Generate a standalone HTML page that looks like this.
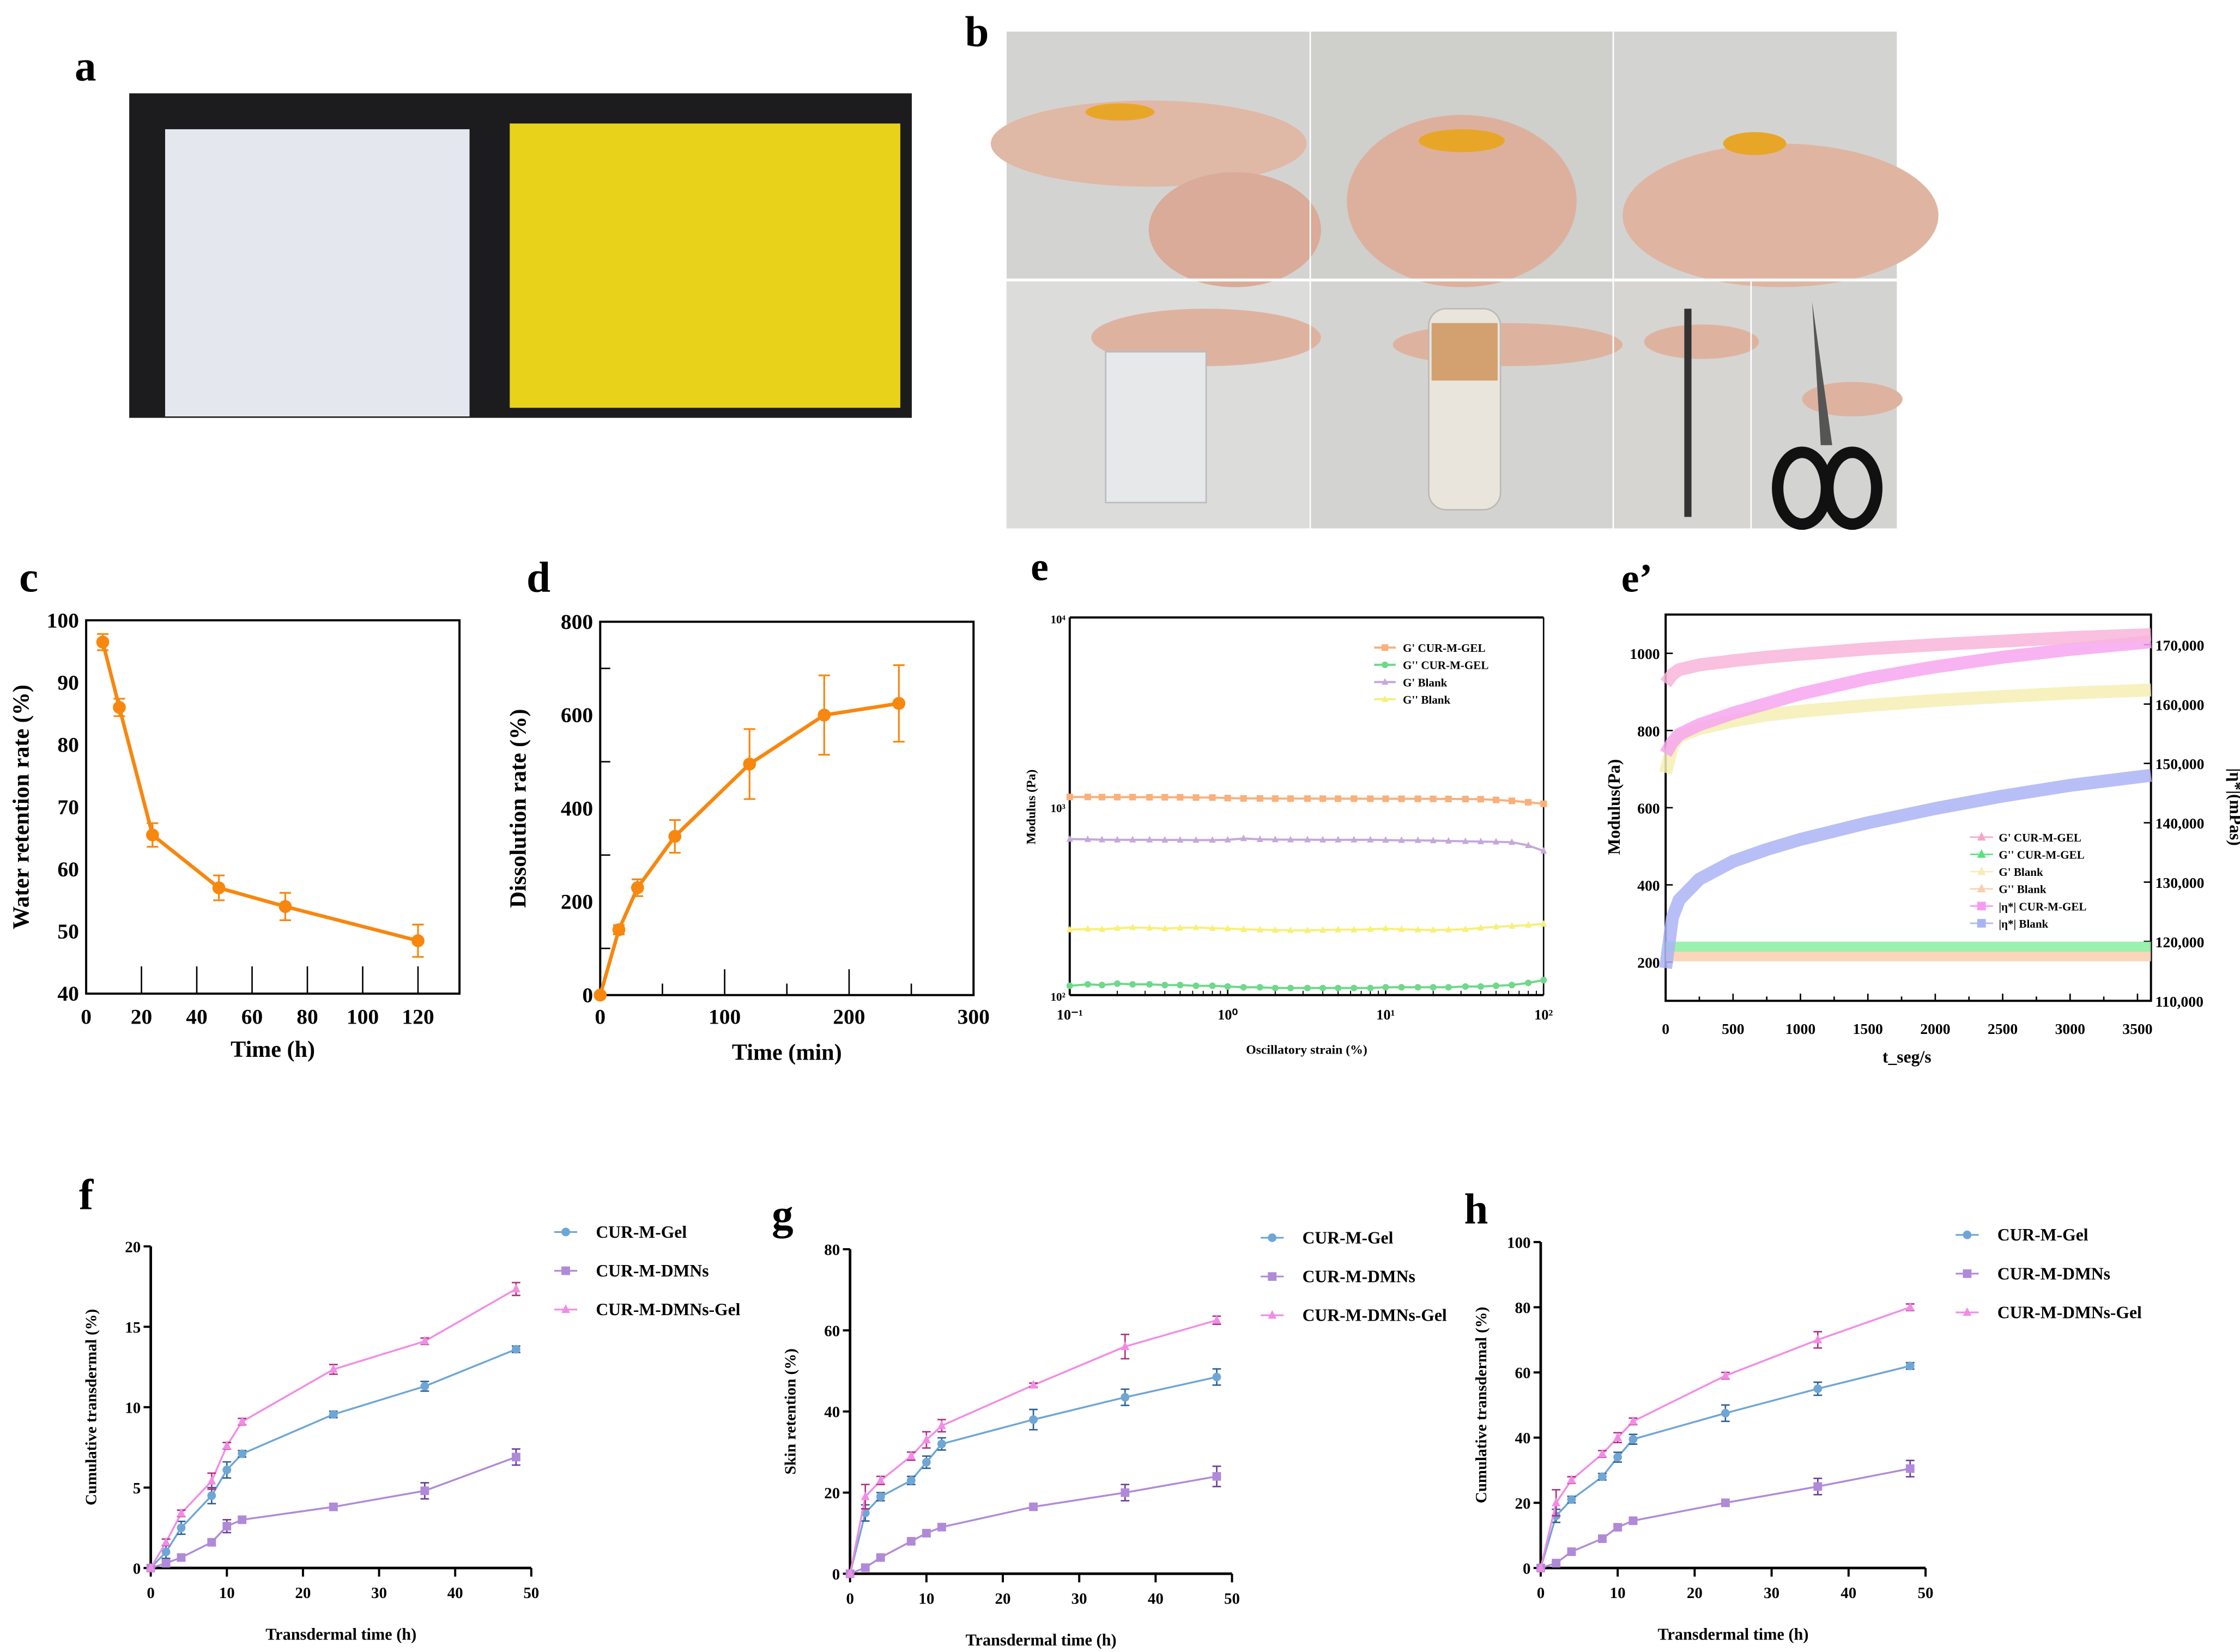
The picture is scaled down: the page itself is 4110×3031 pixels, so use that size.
<!DOCTYPE html>
<html><head><meta charset="utf-8"><style>
html,body{margin:0;padding:0;background:#fff;width:4110px;height:3031px;overflow:hidden}
svg{display:block}
text{font-family:"Liberation Serif",serif;font-weight:bold;fill:#000}
</style></head><body>
<svg id="fig" width="4110" height="3031" viewBox="0 0 1560 1150.5" preserveAspectRatio="none" xmlns="http://www.w3.org/2000/svg">
<g id="photos">
  <text x="52" y="56" font-size="30">a</text>
  <rect x="90" y="65" width="545" height="226" fill="#1c1c1e"/>
  <rect x="115" y="90" width="212" height="200" fill="#e4e8ee"/>
  <rect x="355" y="86" width="272" height="198" fill="#e8d21a"/>
  <text x="672" y="32" font-size="30">b</text>
  <g>
    <rect x="701" y="22" width="620" height="346" fill="#d3d4d2"/>
    <rect x="913" y="22" width="210" height="172" fill="#cfcfcc"/>
    <rect x="701" y="196" width="211" height="172" fill="#dcdcdb"/>
    <rect x="1124" y="196" width="95" height="172" fill="#d6d5d2"/>
    <ellipse cx="800" cy="100" rx="110" ry="30" fill="#e0b8a6"/>
    <ellipse cx="860" cy="160" rx="60" ry="40" fill="#d9ab98"/>
    <ellipse cx="780" cy="78" rx="24" ry="6" fill="#e8a628"/>
    <ellipse cx="1018" cy="140" rx="80" ry="60" fill="#ddb09d"/>
    <ellipse cx="1018" cy="98" rx="30" ry="8" fill="#e8a628"/>
    <ellipse cx="1240" cy="150" rx="110" ry="50" fill="#dfb5a2"/>
    <ellipse cx="1222" cy="100" rx="22" ry="8" fill="#e8a628"/>
    <ellipse cx="840" cy="235" rx="80" ry="20" fill="#ddb3a0"/>
    <rect x="770" y="245" width="70" height="105" fill="#e6e8ea" stroke="#b8bcc0"/>
    <ellipse cx="1050" cy="240" rx="80" ry="15" fill="#ddb3a0"/>
    <rect x="995" y="215" width="50" height="140" rx="12" fill="#e9e4dc" stroke="#bdb8b0"/>
    <rect x="997" y="225" width="46" height="40" fill="#d3a070"/>
    <ellipse cx="1185" cy="238" rx="40" ry="12" fill="#ddb3a0"/>
    <rect x="1173" y="215" width="5" height="145" fill="#333"/>
    <ellipse cx="1290" cy="278" rx="35" ry="12" fill="#ddb3a0"/>
    <ellipse cx="1255" cy="340" rx="17" ry="25" fill="none" stroke="#111" stroke-width="8"/>
    <ellipse cx="1290" cy="340" rx="17" ry="25" fill="none" stroke="#111" stroke-width="8"/>
    <path d="M1262 210 L1268 310 L1276 310 Z" fill="#555"/>
    <line x1="912.5" y1="22" x2="912.5" y2="368" stroke="#fff"/>
    <line x1="1123.5" y1="22" x2="1123.5" y2="368" stroke="#fff"/>
    <line x1="701" y1="195" x2="1321" y2="195" stroke="#fff" stroke-width="2"/>
    <line x1="1219.5" y1="196" x2="1219.5" y2="368" stroke="#fff"/>
  </g>
</g>
<g id="charts"></g>
</svg>
<script>
// ---- panel c ----
const cTime=[6,12,24,48,72,120];
const cWater=[96.5,86,65.5,57,54,48.5];
const cErr=[1.3,1.4,1.9,2,2.2,2.6];
const cXTicks=[0,20,40,60,80,100,120];
const cYTicks=[40,50,60,70,80,90,100];
// ---- panel d ----
const dTime=[0,15,30,60,120,180,240];
const dDiss=[0,140,230,340,495,600,625];
const dErr=[0,10,18,35,75,85,82];
const dXTicks=[0,100,200,300];
const dYTicks=[0,200,400,600,800];
// ---- panel e ----
const eStrain=[0.1,0.13,0.16,0.2,0.25,0.32,0.4,0.5,0.63,0.8,1,1.26,1.6,2,2.5,3.2,4,5,6.3,8,10,12.6,16,20,25,32,40,50,63,80,100];
const eGpCur=[1120,1120,1118,1118,1118,1116,1116,1115,1112,1112,1105,1100,1100,1098,1098,1098,1097,1097,1097,1096,1096,1095,1095,1094,1093,1092,1090,1080,1068,1050,1030];
const eGppCur=[112,114,113,115,114,114,113,113,112,112,111,110,110,109,109,109,109,109,109,109,110,110,110,110,110,111,111,112,113,116,120];
const eGpBlank=[670,668,665,664,664,664,663,663,662,662,664,675,668,666,665,665,664,664,664,664,662,660,660,658,655,652,650,648,645,620,580];
const eGppBlank=[222,224,223,226,228,227,225,227,228,226,225,223,222,221,220,220,221,222,222,223,225,223,222,221,222,223,227,230,232,235,238];
const eXTicks=[0.1,1,10,100];
const eXLabels=["10⁻¹","10⁰","10¹","10²"];
const eYTicks=[100,1000,10000];
const eYLabels=["10²","10³","10⁴"];
// ---- panel e' ----
const epTime=[0,50,100,250,500,750,1000,1500,2000,2500,3000,3600];
const epGpCur=[740,770,790,815,845,870,895,935,965,990,1010,1030];
const epGppCur=[240,240,240,240,240,240,240,240,240,240,240,240];
const epGpBlank=[690,760,785,805,825,840,850,865,878,888,897,905];
const epGppBlank=[215,215,215,215,215,215,215,215,215,215,215,215];
const epEtaCur=[163500,165000,165800,166600,167300,167900,168400,169300,170000,170600,171200,171700];
const epEtaBlank=[115500,124000,127000,130500,133500,135500,137200,140000,142400,144500,146300,148000];
const epXTicks=[0,500,1000,1500,2000,2500,3000,3500];
const epYTicks=[200,400,600,800,1000];
const epY2Ticks=[110000,120000,130000,140000,150000,160000,170000];
// ---- panels f g h ----
const fghTime=[0,2,4,8,10,12,24,36,48];
const fGel=[0,1,2.5,4.5,6.1,7.1,9.55,11.3,13.6];
const fDMNs=[0,0.3,0.65,1.6,2.6,3,3.8,4.8,6.9];
const fDMNsGel=[0,1.6,3.4,5.4,7.6,9.1,12.35,14.1,17.35];
const fErrGel=[0,0.4,0.4,0.5,0.5,0.2,0.2,0.3,0.2];
const fErrDMNs=[0,0.2,0.2,0.2,0.4,0.2,0.2,0.5,0.5];
const fErrDMNsGel=[0,0.2,0.2,0.5,0.2,0.2,0.3,0.2,0.4];
const gGel=[0,15,19,23,27.5,32,38,43.5,48.5];
const gDMNs=[0,1.5,4,8,10,11.5,16.5,20,24];
const gDMNsGel=[0,19,23,29,33,36.5,46.5,56,62.5];
const gErrGel=[0,2,1,1,1.5,1.5,2.5,2,2];
const gErrDMNs=[0,0.5,0.5,0.5,0.8,0.8,0.5,2,2.5];
const gErrDMNsGel=[0,3,1,1,2,1.5,0.5,3,1];
const hGel=[0,16,21,28,34,39.5,47.5,55,62];
const hDMNs=[0,1.5,5,9,12.5,14.5,20,25,30.5];
const hDMNsGel=[0,20,27,35,40,45,59,70,80];
const hErrGel=[0,2,1,1,1.5,1.5,2.5,2,1];
const hErrDMNs=[0,0.5,0.5,0.5,0.8,0.8,0.5,2.5,2.5];
const hErrDMNsGel=[0,4,1,1,1.5,1,1,2.5,1];
const fghXTicks=[0,10,20,30,40,50];
const fYTicks=[0,5,10,15,20];
const gYTicks=[0,20,40,60,80];
const hYTicks=[0,20,40,60,80,100];

const NS="http://www.w3.org/2000/svg";
const root=document.getElementById('charts');
function mk(tag,attrs,parent){const e=document.createElementNS(NS,tag);for(const k in attrs)e.setAttribute(k,attrs[k]);(parent||root).appendChild(e);return e;}
function txt(x,y,s,size,parent,anchor,extra){const t=mk('text',Object.assign({x:x,y:y,'font-size':size,'text-anchor':anchor||'middle'},extra||{}),parent);t.textContent=s;return t;}
function lin(d0,d1,p0,p1){return v=>p0+(v-d0)/(d1-d0)*(p1-p0);}
function logs(d0,d1,p0,p1){return v=>p0+(Math.log10(v)-Math.log10(d0))/(Math.log10(d1)-Math.log10(d0))*(p1-p0);}
function pathOf(xs,ys,X,Y){return xs.map((v,i)=>(i?'L':'M')+X(v).toFixed(2)+' '+Y(ys[i]).toFixed(2)).join(' ');}
function marker(g,shape,x,y,r,color){
  if(shape==='circle')return mk('circle',{cx:x,cy:y,r:r,fill:color},g);
  if(shape==='square')return mk('rect',{x:x-r,y:y-r,width:2*r,height:2*r,fill:color},g);
  return mk('path',{d:`M${x} ${y-r*1.2} L${x+r} ${y+r*0.8} L${x-r} ${y+r*0.8} Z`,fill:color},g);
}

// ===== panel c =====
(function(){
  const g=mk('g',{});
  
  
  const X=lin(0,135,60,320),Y=lin(40,100,692,432);
  txt(20,412,'c',30,g);
  mk('rect',{x:60,y:432,width:260,height:260,fill:'none',stroke:'#000','stroke-width':1.5},g);
  cXTicks.forEach(v=>{mk('line',{x1:X(v),y1:692,x2:X(v),y2:673,stroke:'#000','stroke-width':1},g);txt(X(v),713,v,15,g);});
  cYTicks.forEach(v=>{txt(55,Y(v)+5,v,15,g,'end');});
  const xl=txt(190,736,'Time (h)',16,g);
  const yl=txt(0,0,'Water retention rate (%)',16,g,'middle',{transform:'translate(20,562) rotate(-90)'});
  mk('path',{d:pathOf(cTime,cWater,X,Y),fill:'none',stroke:'#f7870f','stroke-width':2.5},g);
  cTime.forEach((t,i)=>{
    const x=X(t),y1=Y(cWater[i]+cErr[i]),y2=Y(cWater[i]-cErr[i]);
    mk('path',{d:`M${x} ${y1}V${y2}M${x-4} ${y1}H${x+4}M${x-4} ${y2}H${x+4}`,stroke:'#f7870f','stroke-width':1.2,fill:'none'},g);
    const m=marker(g,'circle',x,Y(cWater[i]),4.5,'#f7870f');
    
    
  });
})();

// ===== panel d =====
(function(){
  const g=mk('g',{});
  
  
  const X=lin(0,300,418,678),Y=lin(0,800,693,433);
  txt(375,412,'d',30,g);
  mk('rect',{x:418,y:433,width:260,height:260,fill:'none',stroke:'#000','stroke-width':1.5},g);
  [0,50,100,150,200,250,300].forEach(v=>{mk('line',{x1:X(v),y1:693,x2:X(v),y2:v%100?685:675,stroke:'#000','stroke-width':1},g);});
  dXTicks.forEach(v=>txt(X(v),713,v,15,g));
  [100,300,500,700].forEach(v=>mk('line',{x1:418,y1:Y(v),x2:425,y2:Y(v),stroke:'#000'},g));
  dYTicks.forEach(v=>txt(413,Y(v)+5,v,15,g,'end'));
  txt(548,738,'Time (min)',16,g);
  txt(0,0,'Dissolution rate (%)',16,g,'middle',{transform:'translate(366,563) rotate(-90)'});
  mk('path',{d:pathOf(dTime,dDiss,X,Y),fill:'none',stroke:'#f7870f','stroke-width':2.5},g);
  dTime.forEach((t,i)=>{
    const x=X(t),y1=Y(dDiss[i]+dErr[i]),y2=Y(dDiss[i]-dErr[i]);
    mk('path',{d:`M${x} ${y1}V${y2}M${x-4} ${y1}H${x+4}M${x-4} ${y2}H${x+4}`,stroke:'#f7870f','stroke-width':1.2,fill:'none'},g);
    const m=marker(g,'circle',x,Y(dDiss[i]),4.5,'#f7870f');
    
    
  });
})();

// ===== panel e =====
(function(){
  const g=mk('g',{});
  
  
  const L=745,R=1075,T=430,B=693;
  const X=logs(0.1,100,L,R),Y=logs(100,10000,B,T);
  txt(724,404,'e',28,g);
  mk('line',{x1:L,y1:T,x2:R,y2:T,stroke:'#000','stroke-width':1.5},g);
  mk('line',{x1:L,y1:T,x2:L,y2:B,stroke:'#000','stroke-width':1.5},g);
  mk('line',{x1:R,y1:T,x2:R,y2:B,stroke:'#000','stroke-width':1},g);
  mk('line',{x1:L,y1:B,x2:R,y2:B,stroke:'#000','stroke-width':1.5},g);
  for(let d=0.1;d<100;d*=10){for(let k=2;k<=9;k++){const x=X(d*k);mk('line',{x1:x,y1:B,x2:x,y2:B-3,stroke:'#000','stroke-width':.7},g);}}
  eXTicks.forEach((v,i)=>{mk('line',{x1:X(v),y1:B,x2:X(v),y2:B-6,stroke:'#000'},g);txt(X(v),B+17,eXLabels[i],10,g);});
  eYTicks.forEach((v,i)=>txt(L-3,Y(v)+4,eYLabels[i],8,g,'end'));
  txt(910,734,'Oscillatory strain (%)',9,g);
  txt(0,0,'Modulus (Pa)',9,g,'middle',{transform:'translate(721,562) rotate(-90)'});
  const ser=[[eGpCur,'#f9b07a','square','G\'  CUR-M-GEL'],[eGppCur,'#6fd88a','circle','G\'\'  CUR-M-GEL'],[eGpBlank,'#c5a8d8','tri','G\'  Blank'],[eGppBlank,'#f6f07a','tri','G\'\'  Blank']];
  ser.forEach((s,si)=>{
    mk('path',{d:pathOf(eStrain,s[0],X,Y),fill:'none',stroke:s[1],'stroke-width':1.5},g);
    eStrain.forEach((v,i)=>marker(g,s[2],X(v),Y(s[0][i]),2.3,s[1]));
    const ly=451+si*12;
    mk('line',{x1:957,y1:ly,x2:972,y2:ly,stroke:s[1],'stroke-width':1.5},g);
    marker(g,s[2],964.5,ly,2.3,s[1]);
    const t=txt(977,ly+3,s[3],8,g,'start');
    
    
  });
})();

// ===== panel e' =====
(function(){
  const g=mk('g',{});
  
  
  const L=1160,R=1498,T=428,B=697;
  const X=lin(0,3600,L,R),Y=lin(1000,200,455,670),Y2=lin(110000,170000,697,449);
  txt(1140,412,'e’',28,g);
  mk('rect',{x:L,y:T,width:R-L,height:B-T,fill:'none',stroke:'#000','stroke-width':1.5},g);
  for(let v=0;v<=3500;v+=250){mk('line',{x1:X(v),y1:B,x2:X(v),y2:B-(v%500?3:5),stroke:'#000'},g);}
  epXTicks.forEach(v=>txt(X(v),B+23,v,10.5,g));
  epYTicks.forEach(v=>{mk('line',{x1:L,y1:Y(v),x2:L+5,y2:Y(v),stroke:'#000'},g);txt(L-4,Y(v)+4,v,10.5,g,'end');});
  epY2Ticks.forEach(v=>{mk('line',{x1:R,y1:Y2(v),x2:R-5,y2:Y2(v),stroke:'#000'},g);txt(R+3,Y2(v)+4,v.toLocaleString('en-US'),10.5,g,'start');});
  txt(1328,740,'t_seg/s',12,g);
  txt(0,0,'Modulus(Pa)',12,g,'middle',{transform:'translate(1128,562) rotate(-90)'});
  txt(0,0,'|η*|(mPas)',12,g,'middle',{transform:'translate(1553,562) rotate(90)'});
  const band=(xs,ys,Yf,c,w)=>mk('path',{d:pathOf(xs,ys,X,Yf),fill:'none',stroke:c,'stroke-width':w,'stroke-linejoin':'round','stroke-opacity':.85},g);
  band(epTime,epGppBlank,Y,'#f9cfae',7);
  band(epTime,epGppCur,Y,'#8aeea0',7);
  band(epTime,epGpBlank,Y,'#f5eeb4',9);
  band(epTime,epEtaBlank,Y2,'#aab4f5',9);
  band(epTime,epGpCur,Y,'#f7a6f0',9);
  band(epTime,epEtaCur,Y2,'#f8b5da',9);
  const leg=[['#f7a6c8','tri','G\'  CUR-M-GEL'],['#58e27a','tri','G\'\'  CUR-M-GEL'],['#f5eeb4','tri','G\'  Blank'],['#f9cfae','tri','G\'\'  Blank'],['#f59cf0','square','|η*|  CUR-M-GEL'],['#aab4f5','square','|η*|  Blank']];
  leg.forEach((s,i)=>{
    const ly=583+i*12;
    mk('line',{x1:1372,y1:ly,x2:1388,y2:ly,stroke:s[0],'stroke-width':1},g);
    marker(g,s[1],1380,ly,3,s[0]);
    const t=txt(1392,ly+3,s[2],8,g,'start');
    
    
  });
})();

// ===== panels f g h =====
function fgh(o){
  const g=mk('g',{});
  
  
  const X=lin(0,50,o.L,o.R),Y=lin(0,o.yMax,o.B,o.T);
  txt(o.lx,o.ly,o.label,30,g);
  mk('line',{x1:o.L,y1:o.T,x2:o.L,y2:o.B,stroke:'#000','stroke-width':1.8},g);
  mk('line',{x1:o.L,y1:o.B,x2:o.R,y2:o.B,stroke:'#000','stroke-width':1.8},g);
  fghXTicks.forEach(v=>{mk('line',{x1:X(v),y1:o.B,x2:X(v),y2:o.B+6,stroke:'#000','stroke-width':1.5},g);txt(X(v),o.B+21,v,11,g);});
  o.yTicks.forEach(v=>{mk('line',{x1:o.L-5,y1:Y(v),x2:o.L,y2:Y(v),stroke:'#000','stroke-width':1.5},g);txt(o.L-7,Y(v)+4,v,11,g,'end');});
  txt((o.L+o.R)/2,o.B+50,'Transdermal time (h)',11.5,g);
  txt(0,0,o.ytitle,11,g,'middle',{transform:`translate(${o.L-38},${(o.T+o.B)/2}) rotate(-90)`,'font-family':'"Liberation Serif",serif'});
  const ser=[[o.gel,o.eGel,'#6ea6d6','#2c5f95','circle','CUR-M-Gel'],[o.dm,o.eDm,'#b08ad8','#6a3d99','square','CUR-M-DMNs'],[o.dg,o.eDg,'#f18ce6','#b0307f','tri','CUR-M-DMNs-Gel']];
  ser.forEach((s,si)=>{
    mk('path',{d:pathOf(fghTime,s[0],X,Y),fill:'none',stroke:s[2],'stroke-width':1.3},g);
    fghTime.forEach((t,i)=>{
      const x=X(t),y1=Y(s[0][i]+s[1][i]),y2=Y(s[0][i]-s[1][i]);
      if(s[1][i]>0)mk('path',{d:`M${x} ${y1}V${y2}M${x-3} ${y1}H${x+3}M${x-3} ${y2}H${x+3}`,stroke:s[3],'stroke-width':1,fill:'none'},g);
      marker(g,s[4],x,Y(s[0][i]),3,s[2]);
    });
    const ly=o.legY+si*27;
    mk('line',{x1:o.legX,y1:ly,x2:o.legX+16,y2:ly,stroke:s[2],'stroke-width':1.2},g);
    marker(g,s[4],o.legX+8,ly,3,s[2]);
    const t=txt(o.legX+29,ly+4,s[5],12,g,'start');
    
    
  });
}
fgh({name:'chart-f-cumulative-transdermal',label:'f',lx:60,ly:842,L:105,R:370,T:868,B:1092,yMax:20,yTicks:fYTicks,ytitle:'Cumulative transdermal  (%)',gel:fGel,dm:fDMNs,dg:fDMNsGel,eGel:fErrGel,eDm:fErrDMNs,eDg:fErrDMNsGel,legX:386,legY:858});
fgh({name:'chart-g-skin-retention',label:'g',lx:545,ly:856,L:592,R:858,T:870,B:1096,yMax:80,yTicks:gYTicks,ytitle:'Skin retention (%)',gel:gGel,dm:gDMNs,dg:gDMNsGel,eGel:gErrGel,eDm:gErrDMNs,eDg:gErrDMNsGel,legX:878,legY:862});
fgh({name:'chart-h-cumulative-transdermal',label:'h',lx:1028,ly:852,L:1073,R:1341,T:865,B:1092,yMax:100,yTicks:hYTicks,ytitle:'Cumulative transdermal (%)',gel:hGel,dm:hDMNs,dg:hDMNsGel,eGel:hErrGel,eDm:hErrDMNs,eDg:hErrDMNsGel,legX:1362,legY:860});
</script>
</body></html>
